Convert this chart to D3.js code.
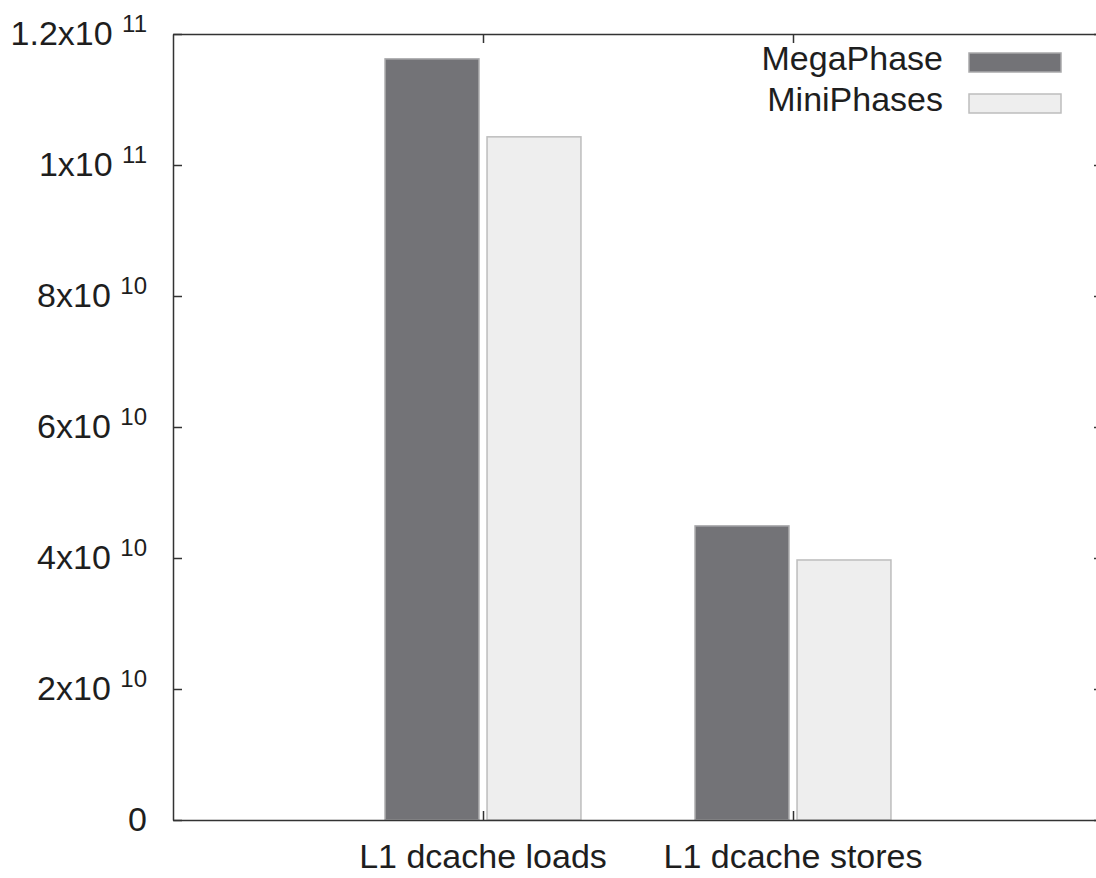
<!DOCTYPE html>
<html>
<head>
<meta charset="utf-8">
<script src="https://cdn.jsdelivr.net/npm/d3@7"></script>
<style>
  body { margin: 0; background: #fff; }
  svg { font-family: "Liberation Sans", Arial, sans-serif; }
</style>
</head>
<body>
<script>
// data
const categories = ["L1 dcache loads", "L1 dcache stores"];
const seriesNames = ["MegaPhase", "MiniPhases"];
const megaPhase = [1.162e11, 4.49e10];
const miniPhases = [1.043e11, 3.97e10];
const yTicks = [0, 2e10, 4e10, 6e10, 8e10, 1e11, 1.2e11];
const yTickMain = ["0", "2x10", "4x10", "6x10", "8x10", "1x10", "1.2x10"];
const yTickExp = ["", "10", "10", "10", "10", "11", "11"];

const W = 1096, H = 878;
const plot = { left: 173, right: 1103, top: 34, bottom: 820 };

const svg = d3.select("body").append("svg")
  .attr("width", W).attr("height", H);

const x = d3.scaleLinear().domain([0, categories.length + 1]).range([plot.left, plot.right]);
const y = d3.scaleLinear().domain([0, 1.2e11]).range([plot.bottom, plot.top]);

const colors = { fill: ["#737377", "#eeeeee"], stroke: ["#a9a9ab", "#bdbdbd"] };
const barW = 0.303, barGap = 0.013;

// bars
const series = [megaPhase, miniPhases];
series.forEach((vals, s) => {
  svg.append("g").selectAll("rect")
    .data(vals)
    .enter().append("rect")
      .attr("x", (d, i) => s === 0 ? x(i + 1 - barGap - barW) : x(i + 1 + barGap))
      .attr("width", x(barW) - x(0))
      .attr("y", d => y(d))
      .attr("height", d => y(0) - y(d))
      .attr("fill", colors.fill[s])
      .attr("stroke", colors.stroke[s])
      .attr("stroke-width", 1.5);
});

// axes
const axisColor = "#333";
const yAxis = svg.append("g")
  .attr("transform", "translate(" + plot.left + ",0)")
  .call(d3.axisLeft(y).tickValues(yTicks).tickSize(-9).tickSizeOuter(0).tickFormat(""));
const yAxisR = svg.append("g")
  .attr("transform", "translate(" + plot.right + ",0)")
  .call(d3.axisRight(y).tickValues(yTicks).tickSize(-9).tickSizeOuter(0).tickFormat(""));
const xAxis = svg.append("g")
  .attr("transform", "translate(0," + plot.bottom + ")")
  .call(d3.axisBottom(x).tickValues([1, 2]).tickSize(-9).tickSizeOuter(0).tickFormat(""));
const xAxisT = svg.append("g")
  .attr("transform", "translate(0," + plot.top + ")")
  .call(d3.axisTop(x).tickValues([1, 2]).tickSize(-9).tickSizeOuter(0).tickFormat(""));

[yAxis, yAxisR, xAxis, xAxisT].forEach(g => {
  g.select(".domain").attr("stroke", axisColor).attr("stroke-width", 1.5);
  g.selectAll(".tick line").attr("stroke", axisColor).attr("stroke-width", 1.5);
});

// y tick labels with superscript exponents
yTicks.forEach((v, i) => {
  const t = svg.append("text")
    .attr("x", 147)
    .attr("y", y(v) + 11)
    .attr("text-anchor", "end")
    .attr("fill", "#1e1e1e")
    .style("font-size", "34px");
  t.append("tspan").text(yTickMain[i] + (yTickExp[i] ? " " : ""));
  if (yTickExp[i]) {
    t.append("tspan").attr("dy", -13).style("font-size", "24px").text(yTickExp[i]);
  }
});

// x labels
svg.append("g").selectAll("text")
  .data(categories)
  .enter().append("text")
    .attr("x", (d, i) => x(i + 1))
    .attr("y", 868)
    .attr("text-anchor", "middle")
    .attr("fill", "#1e1e1e")
    .style("font-size", "34px")
    .text(d => d);

// legend
const legend = svg.append("g");
seriesNames.forEach((name, i) => {
  const ly = 70 + i * 41;
  legend.append("text")
    .attr("x", 943).attr("y", ly)
    .attr("text-anchor", "end")
    .attr("fill", "#1e1e1e")
    .style("font-size", "34px")
    .text(name);
  legend.append("rect")
    .attr("x", 969).attr("y", ly - 17)
    .attr("width", 92).attr("height", 19)
    .attr("fill", colors.fill[i])
    .attr("stroke", colors.stroke[i])
    .attr("stroke-width", 1.5);
});
</script>
</body>
</html>
